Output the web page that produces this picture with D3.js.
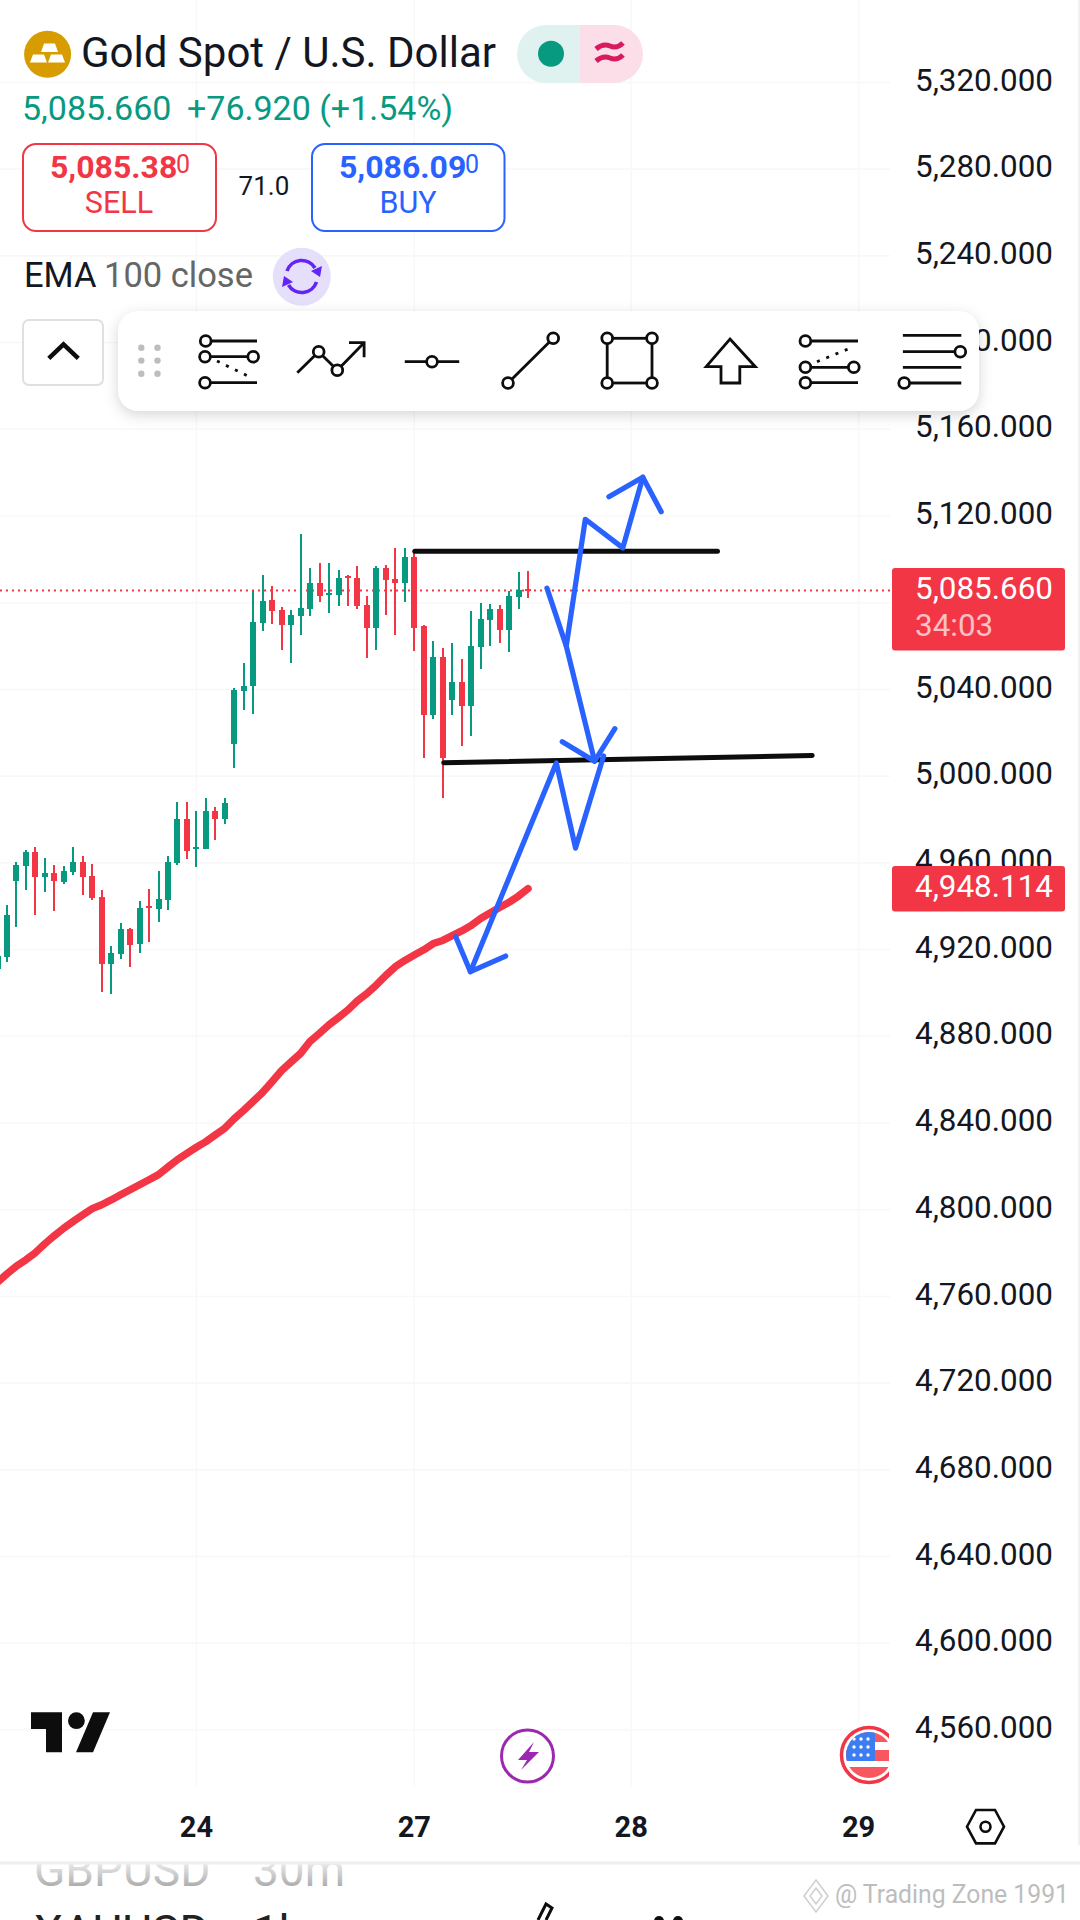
<!DOCTYPE html>
<html>
<head>
<meta charset="utf-8">
<title>Gold Spot / U.S. Dollar</title>
<script src="https://cdn.jsdelivr.net/npm/d3@7"></script>
<style>
	html, body { margin: 0; padding: 0; background: #fff; }
	svg { display: block; font-family: Roboto, sans-serif; }
</style>
</head>
<body>
<div id="chart"></div>
<script>
'use strict';

// Candles, one value per bar
var opens = [4911.0,4916.6,4951.6,4958.5,4965.0,4953.5,4955.3,4951.2,4955.8,4960.4,
	4953.9,4944.2,4913.3,4917.9,4929.5,4922.6,4940.1,4938.7,4942.9,4959.9,
	4980.2,4966.4,4966.4,4983.9,4980.2,5014.8,5039.3,5041.6,5070.6,5081.3,
	5076.7,5069.7,5073.9,5077.1,5089.1,5083.6,5083.6,5092.3,5091.4,5079.0,
	5068.4,5096.0,5091.0,5089.1,5101.1,5069.3,5028.2,5055.0,5035.1,5043.4,
	5032.4,5059.6,5072.0,5077.1,5067.4,5082.7,5086.4];
var highs = [4919.0,4940.6,4960.4,4965.9,4967.3,4962.2,4959.0,4958.5,4967.3,4963.2,
	4959.5,4947.5,4921.6,4932.2,4929.9,4942.4,4947.9,4956.2,4963.2,4988.1,
	4988.1,4983.9,4989.9,4985.8,4989.9,5040.7,5052.2,5085.4,5092.8,5087.7,
	5078.0,5076.7,5111.7,5096.0,5098.3,5098.3,5095.1,5092.8,5097.0,5083.1,
	5097.0,5097.4,5105.3,5105.3,5103.9,5069.7,5062.4,5059.1,5061.5,5054.0,
	5076.2,5079.9,5079.4,5079.0,5085.4,5094.2,5094.6];
var lows = [4909.0,4914.3,4930.4,4947.5,4935.9,4946.5,4937.8,4950.2,4954.4,4945.2,
	4942.9,4900.4,4899.5,4915.6,4911.9,4918.4,4923.5,4932.7,4938.2,4959.0,
	4961.8,4958.1,4966.4,4970.5,4977.9,5003.8,5030.5,5028.7,5067.0,5070.2,
	5058.2,5052.2,5065.1,5073.9,5080.3,5075.3,5078.5,5078.5,5077.1,5054.5,
	5058.2,5074.3,5065.1,5080.3,5057.8,5008.4,5026.4,4990.0,5028.2,5013.9,
	5018.5,5049.4,5060.0,5061.4,5057.3,5077.1,5082.2];
var closes = [4917.0,4935.9,4959.0,4965.0,4953.5,4955.3,4951.6,4956.2,4960.4,4953.5,
	4943.8,4913.3,4918.4,4929.5,4922.1,4939.2,4939.2,4943.3,4960.4,4980.2,
	4965.5,4967.3,4983.9,4980.2,4987.6,5039.8,5041.6,5071.1,5080.8,5076.2,
	5069.7,5074.3,5077.6,5089.1,5083.1,5084.5,5091.4,5091.4,5078.5,5068.4,
	5096.0,5090.5,5089.1,5101.1,5068.4,5028.2,5055.0,5008.4,5043.4,5032.4,
	5060.0,5072.5,5077.1,5067.4,5083.1,5085.9,5085.66];

// EMA 100 close
var ema = [4766.6,4770.4,4774.0,4776.9,4780.2,4784.3,4788.0,4791.5,4794.6,4797.6,
	4800.5,4802.3,4804.5,4806.9,4809.2,4811.5,4813.8,4816.2,4819.7,4823.1,
	4826.0,4828.8,4831.4,4834.5,4837.6,4842.0,4845.9,4850.0,4854.2,4859.1,
	4864.2,4868.2,4872.1,4877.7,4881.4,4885.3,4888.7,4892.2,4896.4,4899.7,
	4903.7,4908.1,4912.1,4915.0,4917.5,4919.9,4922.8,4924.2,4926.4,4928.6,
	4931.1,4934.3,4936.9,4939.4,4941.8,4944.7,4948.114];

var priceTicks = [5320,5280,5240,5200,5160,5120,5080,5040,5000,4960,4920,4880,4840,4800,4760,4720,4680,4640,4600,4560];
var dayLabels = ['24', '27', '28', '29'];
var dayBars = [21, 44, 66.9, 90.9];
var lastPrice = 5085.66;
var lastEma = 4948.114;

// Hand drawn levels and arrows, as [bar, price]
var resistanceLine = [[44.05, 5103.7], [76.0, 5103.7]];
var supportLine = [[47.1, 5006.2], [86.0, 5009.5]];
var arrowUpPath = [[60.04, 5060.0], [62.05, 5118.5], [66.01, 5105.3], [68.12, 5137.9]];
var arrowUpHead = [[64.54, 5128.9], [68.12, 5137.9], [70.06, 5122.0]];
var arrowDownPath = [[58.0, 5086.7], [60.04, 5060.0], [63.03, 5006.9]];
var arrowDownHead = [[59.62, 5015.9], [63.03, 5006.9], [65.17, 5021.9]];
var arrowLowPath = [[49.92, 4909.8], [58.99, 5006.1], [61.02, 4966.8], [63.98, 5009.3]];
var arrowLowHead = [[48.37, 4925.9], [49.92, 4909.8], [53.64, 4917.0]];

var GREEN = '#089981', RED = '#f23645', BLUE = '#2962ff', GRID = '#f8f8f8';

var svg = d3.select('#chart').append('svg').attr('width', 1080).attr('height', 1920);

var x = d3.scaleLinear().domain([0, 56]).range([-2.5, 528]);
var y = d3.scaleLinear().domain([5120, 4560]).range([516, 1730]);

// Draw a piece of text
function label(parent, px, py, str, size, fill, weight, anchor) {
	return parent.append('text')
		.attr('x', px).attr('y', py)
		.attr('font-size', size)
		.attr('fill', fill || '#131722')
		.attr('font-weight', weight || 400)
		.attr('text-anchor', anchor || 'start')
		.text(str);
}

// Grid
var grid = svg.append('g').attr('stroke', GRID).attr('stroke-width', 1.6);
grid.selectAll('.h').data(priceTicks).enter().append('line')
	.attr('x1', 0).attr('x2', 890)
	.attr('y1', function(d) { return y(d); })
	.attr('y2', function(d) { return y(d); });
grid.selectAll('.v').data(dayBars).enter().append('line')
	.attr('x1', function(d) { return x(d); })
	.attr('x2', function(d) { return x(d); })
	.attr('y1', 0).attr('y2', 1787);

// Last price line
svg.append('line')
	.attr('x1', 0).attr('x2', 890)
	.attr('y1', y(lastPrice)).attr('y2', y(lastPrice))
	.attr('stroke', RED).attr('stroke-width', 2).attr('stroke-dasharray', '2,4');

// Candles
var bars = d3.range(opens.length);
function barColor(i) { return closes[i] >= opens[i] ? GREEN : RED; }
var candles = svg.append('g').attr('shape-rendering', 'crispEdges');
candles.selectAll('.wick').data(bars).enter().append('rect')
	.attr('x', function(i) { return x(i) - 1; })
	.attr('width', 2)
	.attr('y', function(i) { return y(highs[i]); })
	.attr('height', function(i) { return y(lows[i]) - y(highs[i]); })
	.attr('fill', barColor);
candles.selectAll('.body').data(bars).enter().append('rect')
	.attr('x', function(i) { return x(i) - 3; })
	.attr('width', 6)
	.attr('y', function(i) { return y(Math.max(opens[i], closes[i])); })
	.attr('height', function(i) { return Math.max(2, Math.abs(y(opens[i]) - y(closes[i]))); })
	.attr('fill', barColor);

// EMA
var emaLine = d3.line()
	.x(function(d, i) { return x(i); })
	.y(function(d) { return y(d); });
svg.append('path').datum(ema)
	.attr('d', emaLine)
	.attr('fill', 'none').attr('stroke', RED).attr('stroke-width', 7.5)
	.attr('stroke-linecap', 'round').attr('stroke-linejoin', 'round');

// Drawings
var drawn = d3.line()
	.x(function(d) { return x(d[0]); })
	.y(function(d) { return y(d[1]); });
function drawing(points, color, width) {
	svg.append('path').datum(points)
		.attr('d', drawn)
		.attr('fill', 'none').attr('stroke', color).attr('stroke-width', width)
		.attr('stroke-linecap', 'round').attr('stroke-linejoin', 'round');
}
drawing(resistanceLine, '#0d0d0d', 5);
drawing(supportLine, '#0d0d0d', 5);
[arrowUpPath, arrowUpHead, arrowDownPath, arrowDownHead, arrowLowPath, arrowLowHead].forEach(function(p) {
	drawing(p, BLUE, 5.2);
});

// Price axis
var axis = d3.axisRight(y)
	.tickValues(priceTicks)
	.tickSize(0)
	.tickFormat(d3.format(',.3f'));
var axisG = svg.append('g').call(axis);
axisG.select('.domain').remove();
axisG.selectAll('text')
	.attr('x', 915).attr('dy', 7.6)
	.attr('font-size', 31.4)
	.attr('font-family', 'Roboto, sans-serif')
	.attr('fill', '#131722');

// Price tags
function tag(top, bottom) {
	svg.append('rect').attr('x', 892).attr('y', top)
		.attr('width', 173).attr('height', bottom - top)
		.attr('rx', 3).attr('fill', RED);
}
tag(568, 650.6);
label(svg, 915, 598.5, d3.format(',.3f')(lastPrice), 31.4, '#fff');
label(svg, 915, 635.5, '34:03', 31.4, '#fff').attr('fill-opacity', 0.7);
tag(866, 911.4);
label(svg, 915, 897, d3.format(',.3f')(lastEma), 31.4, '#fff');

// Time axis
var days = svg.append('g');
days.selectAll('text').data(dayBars).enter().append('text')
	.attr('x', function(d) { return x(d); })
	.attr('y', 1836.7)
	.attr('text-anchor', 'middle')
	.attr('font-size', 29).attr('font-weight', 700).attr('fill', '#131722')
	.text(function(d, i) { return dayLabels[i]; });

// Header
svg.append('circle').attr('cx', 47.6).attr('cy', 54.3).attr('r', 23.5).attr('fill', '#d69c00');
var ingots = svg.append('g').attr('fill', '#fff');
ingots.append('path').attr('d', 'M44 43.5h11l3 8.5h-17z');
ingots.append('path').attr('d', 'M33 54.5h11l3 8h-17z');
ingots.append('path').attr('d', 'M51 54.5h11l3 8h-17z');
label(svg, 81, 66.7, 'Gold Spot / U.S. Dollar', 42, '#131722').attr('textLength', 415).attr('lengthAdjust', 'spacingAndGlyphs');

svg.append('path').attr('d', 'M580 25h-34a29 29 0 0 0 0 58h34z').attr('fill', '#dff2ef');
svg.append('path').attr('d', 'M580 25h34a29 29 0 0 1 0 58h-34z').attr('fill', '#fbdee7');
svg.append('circle').attr('cx', 551).attr('cy', 53.7).attr('r', 13).attr('fill', GREEN);
svg.append('path').attr('d', 'M596 49q7-6 14-3t13-3M596 61q7-6 14-3t13-3')
	.attr('fill', 'none').attr('stroke', '#d81b60').attr('stroke-width', 5);

label(svg, 22, 120, '5,085.660', 34, GREEN);
label(svg, 187, 120, '+76.920 (+1.54%)', 34, GREEN);

function quoteBox(left, width, color) {
	svg.append('rect').attr('x', left).attr('y', 144)
		.attr('width', width).attr('height', 87).attr('rx', 13)
		.attr('fill', '#fff').attr('stroke', color).attr('stroke-width', 2);
}
quoteBox(23, 193, RED);
label(svg, 50, 178, '5,085.38', 32, RED, 700);
label(svg, 176, 173, '0', 25, RED);
label(svg, 119, 213, 'SELL', 30.5, RED, 400, 'middle');
label(svg, 238.6, 194.7, '71.0', 26, '#131722');
quoteBox(312, 192.5, BLUE);
label(svg, 339, 178, '5,086.09', 32, BLUE, 700);
label(svg, 465, 173, '0', 25, BLUE);
label(svg, 408, 213, 'BUY', 30.5, BLUE, 400, 'middle');

label(svg, 24, 287, 'EMA', 34.5, '#131722');
label(svg, 104, 287, '100 close', 34.5, '#666');
svg.append('circle').attr('cx', 301.8).attr('cy', 276.7).attr('r', 29).attr('fill', '#e5dffc');
var sync = svg.append('g').attr('fill', 'none').attr('stroke', '#6424f5').attr('stroke-width', 3.6);
sync.append('path').attr('d', 'M287 271a15.5 15.5 0 0 1 28 -3');
sync.append('path').attr('d', 'M316.5 282a15.5 15.5 0 0 1 -28 3');
svg.append('path').attr('d', 'M322 266l-2 11-9-6z').attr('fill', '#6424f5');
svg.append('path').attr('d', 'M282 287l2-11 9 6z').attr('fill', '#6424f5');

// Collapse button
svg.append('rect').attr('x', 23).attr('y', 320).attr('width', 80).attr('height', 65).attr('rx', 6)
	.attr('fill', '#fff').attr('stroke', '#e0e0e0').attr('stroke-width', 2);
svg.append('path').attr('d', 'M48.8 358.3L63.5 344.3L78.3 358.3')
	.attr('fill', 'none').attr('stroke', '#0d0d0d').attr('stroke-width', 4.5);

// Drawing toolbar
svg.append('rect').attr('x', 118).attr('y', 311).attr('width', 861).attr('height', 100).attr('rx', 20)
	.attr('fill', '#fff').style('filter', 'drop-shadow(0 4px 7px rgba(0,0,0,0.16))');
var dots = svg.append('g').attr('fill', '#bdbdbd');
[141.3, 157.5].forEach(function(dx) {
	[347.7, 360.6, 373.7].forEach(function(dy) {
		dots.append('circle').attr('cx', dx).attr('cy', dy).attr('r', 3.2);
	});
});

var tools = svg.append('g').attr('fill', 'none').attr('stroke', '#0d0d0d').attr('stroke-width', 2.8);
function seg(x1, y1, x2, y2, dash) {
	var l = tools.append('line').attr('x1', x1).attr('y1', y1).attr('x2', x2).attr('y2', y2);
	if (dash) { l.attr('stroke-dasharray', dash); }
}
function knob(cx, cy) {
	tools.append('circle').attr('cx', cx).attr('cy', cy).attr('r', 5.4).attr('fill', '#fff');
}
seg(205, 341, 257, 341); seg(205, 356.7, 253, 356.7); seg(205, 382.7, 257, 382.7);
seg(217, 361, 252, 378, '3,7');
knob(205.7, 341); knob(205, 356.7); knob(253.2, 356.7); knob(205, 382.7);

tools.append('path').attr('d', 'M297.3 372.7L318.7 351.7L337.3 370.3L364.1 342.7');
tools.append('path').attr('d', 'M349 342.7H364.1V357.3');
knob(318.7, 351.7); knob(337.3, 370.3);

seg(404.8, 361.7, 459.2, 361.7); knob(432, 361.7);
seg(508, 383, 553.2, 338.3); knob(508, 383); knob(553.2, 338.3);

tools.append('rect').attr('x', 607.2).attr('y', 338.3).attr('width', 44.8).attr('height', 44.7);
knob(607.2, 338.3); knob(652, 338.3); knob(607.2, 383); knob(652, 383);

tools.append('path').attr('d', 'M730 339L755.3 366.7H739.8V383H721V366.7H706.2Z');

seg(805, 341, 858, 341); seg(805, 367.3, 854, 367.3); seg(805, 382.7, 858, 382.7);
seg(817, 361.7, 853.8, 346.7, '3,7');
knob(805.4, 341); knob(805.4, 367.3); knob(853.8, 367.3); knob(805.4, 382.7);

seg(902.9, 335.3, 961.3, 335.3); seg(902.9, 351.7, 960, 351.7);
seg(902.9, 367.3, 961.3, 367.3); seg(904, 383, 961.3, 383);
knob(960.3, 351.7); knob(904.2, 383);

// TradingView mark
svg.append('path').attr('d', 'M31 1712.3H62V1752.3H46V1729H31Z').attr('fill', '#0d0d0d');
svg.append('circle').attr('cx', 76.4).attr('cy', 1720.7).attr('r', 8.4).attr('fill', '#0d0d0d');
svg.append('path').attr('d', 'M93 1712.3H110L93 1752.3H76Z').attr('fill', '#0d0d0d');

// Event markers
svg.append('circle').attr('cx', 527.5).attr('cy', 1756).attr('r', 26).attr('fill', '#fff')
	.attr('stroke', '#9c27b0').attr('stroke-width', 3);
svg.append('path').attr('d', 'M534 1742L518 1760H527L521 1770L539 1752H529Z').attr('fill', '#9c27b0');

var flagClip = svg.append('clipPath').attr('id', 'flag-clip');
flagClip.append('rect').attr('x', 830).attr('y', 1720).attr('width', 59).attr('height', 70);
var flagInner = svg.append('clipPath').attr('id', 'flag-inner');
flagInner.append('circle').attr('cx', 869).attr('cy', 1755).attr('r', 23);
var flag = svg.append('g').attr('clip-path', 'url(#flag-clip)');
flag.append('circle').attr('cx', 869).attr('cy', 1755).attr('r', 27.5)
	.attr('fill', '#fff').attr('stroke', RED).attr('stroke-width', 3.5);
var flagBody = flag.append('g').attr('clip-path', 'url(#flag-inner)');
flagBody.append('rect').attr('x', 840).attr('y', 1732).attr('width', 60).attr('height', 10).attr('fill', '#f9575f');
flagBody.append('rect').attr('x', 840).attr('y', 1750).attr('width', 60).attr('height', 11).attr('fill', '#f9575f');
flagBody.append('rect').attr('x', 840).attr('y', 1767).attr('width', 60).attr('height', 11).attr('fill', '#f9575f');
flagBody.append('rect').attr('x', 845).attr('y', 1732).attr('width', 30).attr('height', 29).attr('fill', '#3d7df2');
[1739, 1747, 1755].forEach(function(sy) {
	[854, 861, 868].forEach(function(sx) {
		flagBody.append('circle').attr('cx', sx).attr('cy', sy).attr('r', 1.7).attr('fill', '#fff');
	});
});

// Chart settings
svg.append('path').attr('d', 'M976 1810H995L1004 1826.7L995 1843.4H976L967 1826.7Z')
	.attr('fill', 'none').attr('stroke', '#0d0d0d').attr('stroke-width', 2.6);
svg.append('circle').attr('cx', 985.5).attr('cy', 1826.7).attr('r', 5)
	.attr('fill', 'none').attr('stroke', '#0d0d0d').attr('stroke-width', 2.6);

// Right edge and screen bottom
svg.append('line').attr('x1', 1079).attr('x2', 1079).attr('y1', 0).attr('y2', 1862).attr('stroke', '#ececec').attr('stroke-width', 1.5);
var fade = svg.append('linearGradient').attr('id', 'fade')
	.attr('gradientUnits', 'userSpaceOnUse')
	.attr('x1', 0).attr('y1', 1860).attr('x2', 0).attr('y2', 1888);
fade.append('stop').attr('offset', 0).attr('stop-color', '#f2f2f2');
fade.append('stop').attr('offset', 1).attr('stop-color', '#a8a8a8');
label(svg, 34, 1886, 'GBPUSD', 46, 'url(#fade)');
label(svg, 253, 1886, '30m', 46, 'url(#fade)');
svg.append('rect').attr('x', 0).attr('y', 1845).attr('width', 1080).attr('height', 17).attr('fill', '#fff');
svg.append('rect').attr('x', 0).attr('y', 1861.5).attr('width', 1080).attr('height', 3).attr('fill', '#eeeeee');
label(svg, 34, 1948, 'XAUUSD', 46, '#222');
label(svg, 253, 1948, '1h', 46, '#222');
svg.append('path').attr('d', 'M538 1920L546 1904L552 1908L546 1920').attr('fill', 'none').attr('stroke', '#0d0d0d').attr('stroke-width', 3);
svg.append('circle').attr('cx', 659).attr('cy', 1921).attr('r', 5).attr('fill', '#0d0d0d');
svg.append('circle').attr('cx', 678).attr('cy', 1921).attr('r', 5).attr('fill', '#0d0d0d');
svg.append('path').attr('d', 'M816 1880L828 1896L816 1912L804 1896Z M816 1888L822 1896L816 1904L810 1896Z')
	.attr('fill', 'none').attr('stroke', '#d0d0d0').attr('stroke-width', 1.6);
label(svg, 835, 1903, '@ Trading Zone 1991', 25, '#bdbdbd').attr('textLength', 234).attr('lengthAdjust', 'spacingAndGlyphs');
</script>
</body>
</html>
